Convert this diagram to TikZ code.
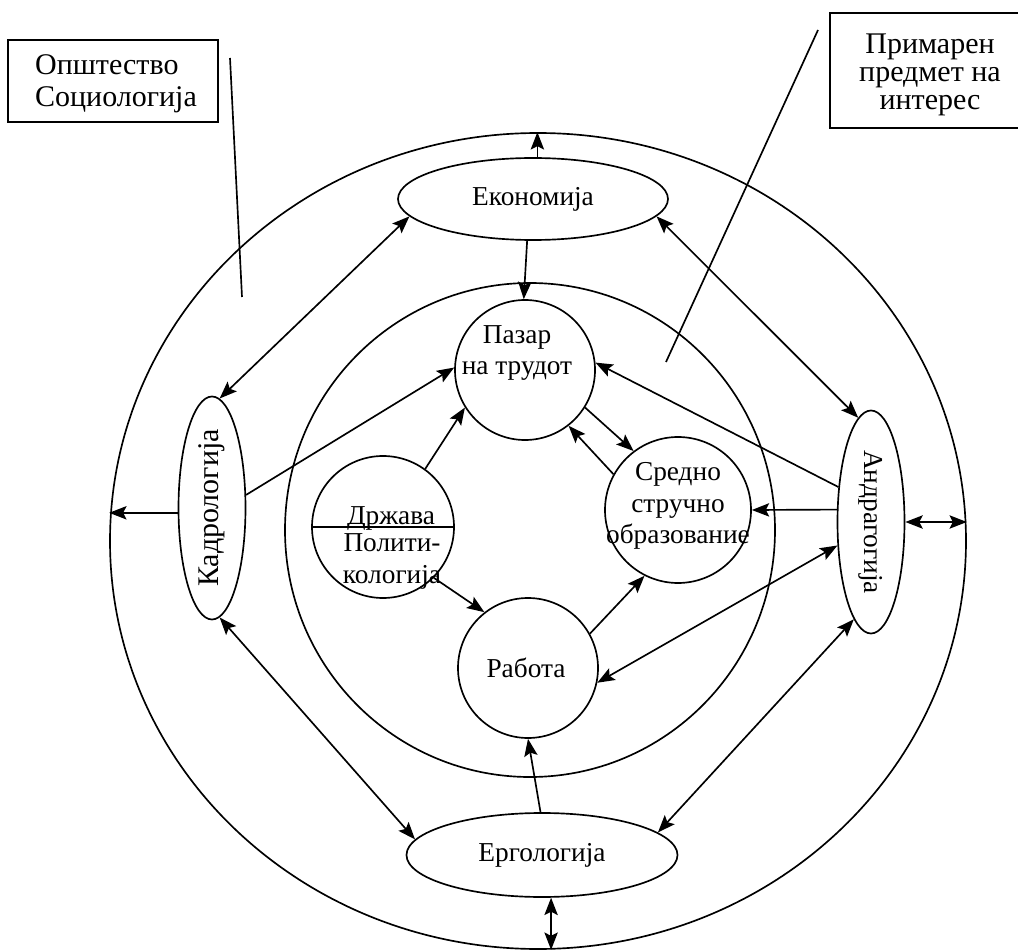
\documentclass[tikz,border=0pt]{standalone}
\usepackage{fontspec}
\setmainfont{Liberation Serif}
\newfontfamily\labelfont{Liberation Serif}
\usetikzlibrary{shapes.geometric,arrows.meta,calc}

\begin{document}
\begin{tikzpicture}[x=0.75pt,y=-0.75pt,
  line width=1.25pt,
  >={Stealth[length=13pt,width=10pt,inset=2.5pt]},
  every node/.style={font=\labelfont\fontsize{20.5}{23.5}\selectfont},
  ring/.style={draw, ellipse, inner sep=0pt},
  oval/.style={draw, ellipse, fill=white, inner sep=0pt},
  lbl/.style={align=center, inner sep=0pt},
  biglbl/.style={lbl, font=\labelfont\fontsize{22.5}{21}\selectfont},
  tag/.style={draw, rectangle, inner sep=0pt}]
\useasboundingbox (0,0) rectangle (1018,952);

% rings
\node[ring, minimum width=856*0.75pt, minimum height=816*0.75pt] (outer) at (538,541) {};
\node[ring, minimum width=490*0.75pt, minimum height=494*0.75pt] (inner) at (530,530) {};

% outer disciplines
\node[oval, minimum width=270*0.75pt, minimum height=82*0.75pt] (eko) at (533,199) {};
\node[lbl] (ekot) at (eko.center) {Економија};
\node[oval, minimum width=271*0.75pt, minimum height=84*0.75pt] (erg) at (542,855) {};
\node[lbl] (ergt) at (erg.center) {Ергологија};
\node[oval, minimum width=67*0.75pt, minimum height=223*0.75pt] (kad) at (212,508) {};
\node[biglbl, rotate=90] (kadt) at (kad.center) {Кадрологија};
\node[oval, minimum width=67*0.75pt, minimum height=223*0.75pt] (and) at (871,522) {};
\node[lbl, rotate=-90] (andt) at (and.center) {Андрагогија};

% inner subjects
\node[oval, minimum size=140*0.75pt] (pazar) at (525,370) {};
\node[lbl] (pazart) at (517,353) {Пазар\\на трудот};
\node[oval, minimum size=146*0.75pt] (sredno) at (678,510) {};
\node[lbl] (srednot) at (678,506) {Средно\\стручно\\образование};
\node[oval, minimum size=140*0.75pt] (rabota) at (528,668) {};
\node[lbl] (rabotat) at (526,668) {Работа};
\node[oval, minimum size=142*0.75pt] (drz) at (383,527) {};
\draw (drz.west) -- (drz.east);
\node[lbl, anchor=base] (drzt) at (391,524) {Држава};
\node[lbl, anchor=north] (polt) at (392,533) {Полити-\\кологија};

% labels
\node[tag, minimum width=210*0.75pt, minimum height=82*0.75pt] (soc) at (113,81) {};
\node[biglbl, align=left, font=\labelfont\fontsize{22.5}{24}\selectfont] (soct) at (116,84) {Општество\\Социологија};
\node[biglbl] (primt) at (930,75) {Примарен\\предмет на\\интерес};
\draw (1018,13) -| (830,128) -- (1018,128);
\coordinate (socA) at (230,58);
\coordinate (socB) at (242,297);
\coordinate (primA) at (818,30);
\coordinate (primB) at (666,362);
\draw (socA) -- (socB);
\draw (primA) -- (primB);

% links to the outer ring
\draw[->] (eko.84) -- (eko.84 |- outer.north);
\draw[->] (kad.188) -- (kad.188 -| outer.west);
\draw[<->] (and.east) -- (and.east -| outer.east);
\draw[<->] (erg.-78) -- (erg.-78 |- outer.south);

% links between the outer disciplines
\draw[<->] (kad.86) -- (eko.188);
\draw[<->] (eko.-8) -- (and.97);
\draw[<->] (kad.-86) -- (erg.173);
\draw[<->] (erg.11) -- (and.-100);

% links to the inner subjects
\draw[->] (eko.-98) -- (pazar.91);
\draw[->] (kad.21) -- (pazar.178);
\draw[->] (and.133) -- (pazar.6);
\draw[->] (and.160) -- (sredno.east);
\draw[<->] (and.215) -- (rabota.-12);
\draw[->] (erg.92) -- (rabota.-90);
\draw[->] (rabota.29) -- (sredno.-117);
\draw[->] (pazar.-32) -- (sredno.127);
\draw[->] (sredno.151) -- (pazar.-52);
\draw[->] (drz.54) -- (pazar.-148);
\draw[->] (drz.-45) -- (rabota.128);
\end{tikzpicture}
\end{document}
